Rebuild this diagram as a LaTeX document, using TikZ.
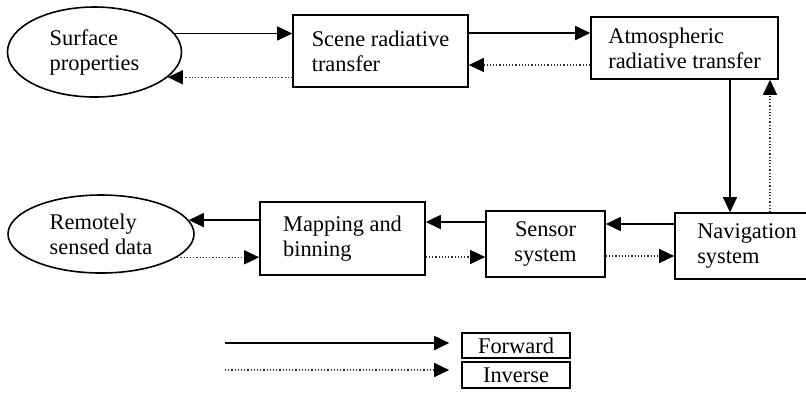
\documentclass[tikz,border=0pt]{standalone}
\usepackage{fontspec}
\setmainfont{Liberation Serif}
\usetikzlibrary{arrows.meta,shapes.geometric}
\begin{document}
\begin{tikzpicture}[x=0.5pt,y=-0.5pt,
  every node/.style={font=\fontsize{11.2}{12.5}\selectfont},
  box/.style={draw,line width=0.8pt,rectangle,align=left,inner sep=0pt},
  oval/.style={draw,line width=0.8pt,ellipse,align=left,inner sep=0pt},
  fwd/.style={line width=0.9pt,-{Triangle[length=7.5pt,width=7pt]}},
  inv/.style={black!80,line width=0.6pt,densely dotted,-{Triangle[length=7.5pt,width=7pt,color=black]}}]
\clip (0,0) rectangle (806,404);
\fill[white] (0,0) rectangle (806,404);
% top row
\node[oval,minimum width=87pt,minimum height=45pt] (surf) at (94.5,52) {Surface\\properties};
\node[box,minimum width=87.5pt,minimum height=36pt] (scene) at (380.5,51) {Scene radiative\\transfer};
\node[box,minimum width=93.5pt,minimum height=31pt] (atm) at (684.5,48) {Atmospheric\\radiative transfer};
% bottom row
\node[oval,minimum width=93pt,minimum height=39pt] (remote) at (101,234) {Remotely\\sensed data};
\node[box,minimum width=82.5pt,minimum height=36.5pt] (map) at (342.5,238.5) {Mapping and\\binning};
\node[box,align=center,minimum width=59.5pt,minimum height=33pt] (sensor) at (545.5,244) {Sensor\\system};
\node[box,minimum width=72pt,minimum height=33pt] (nav) at (747,246) {Navigation\\system};
% forward and inverse links
\draw[fwd,line width=0.5pt] (surf.13) -- (surf.13 -| scene.west);
\draw[inv] (surf.-19 -| scene.west) -- (surf.-19);
\draw[fwd] ([yshift=9pt]scene.east) -- ([yshift=9pt]scene.east -| atm.west);
\draw[inv] ([yshift=-7pt]scene.east -| atm.west) -- ([yshift=-7pt]scene.east);
\draw[fwd,line width=0.6pt] ([xshift=22.75pt]atm.south) -- ([xshift=22.75pt]atm.south |- nav.north);
\draw[inv] ([xshift=42.75pt]atm.south |- nav.north) -- ([xshift=42.75pt]atm.south);
\draw[fwd] ([yshift=11pt]nav.west) -- ([yshift=11pt]nav.west -| sensor.east);
\draw[inv] ([yshift=-5pt]nav.west -| sensor.east) -- ([yshift=-5pt]nav.west);
\draw[fwd] ([yshift=11pt]sensor.west) -- ([yshift=11pt]sensor.west -| map.east);
\draw[inv] ([yshift=-6.5pt]sensor.west -| map.east) -- ([yshift=-6.5pt]sensor.west);
\draw[fwd] (remote.9 -| map.west) -- (remote.9);
\draw[inv] (remote.-17) -- (remote.-17 -| map.west);
% key
\node[box,minimum width=54pt,minimum height=12.5pt] (fwdkey) at (516,345.5) {Forward};
\node[box,minimum width=54pt,minimum height=13pt] (invkey) at (516,375) {Inverse};
\coordinate (fstart) at (225,343);
\coordinate (istart) at (225,370);
\draw[fwd,shorten >=6pt] (fstart) -- (fstart -| fwdkey.west);
\draw[inv,shorten >=6pt] (istart) -- (istart -| invkey.west);
\end{tikzpicture}
\end{document}
